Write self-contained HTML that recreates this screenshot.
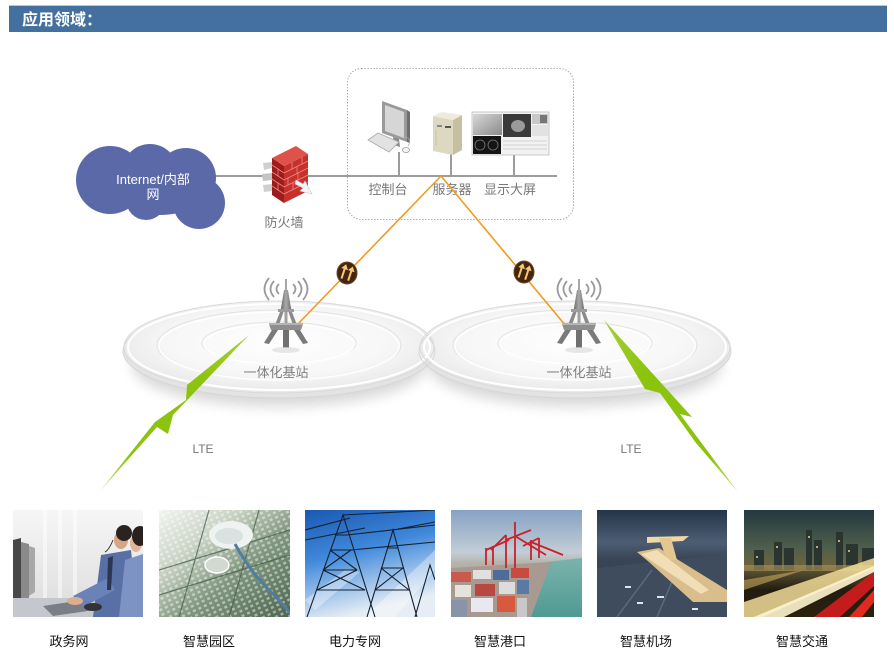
<!DOCTYPE html>
<html><head><meta charset="utf-8">
<style>
html,body{margin:0;padding:0;background:#fff;}
body{width:894px;height:660px;overflow:hidden;position:relative;font-family:"Liberation Sans","Noto Sans CJK SC",sans-serif;}
svg{position:absolute;left:0;top:0;}
</style></head><body>
<svg width="894" height="660" viewBox="0 0 894 660" xmlns="http://www.w3.org/2000/svg" font-family="Liberation Sans, Noto Sans CJK SC, sans-serif">
<defs>
 <radialGradient id="discg" cx="50%" cy="45%" r="55%">
  <stop offset="0" stop-color="#fefefe"/><stop offset="0.65" stop-color="#f7f7f7"/><stop offset="1" stop-color="#e8e8e8"/>
 </radialGradient>
 <filter id="blur8" x="-20%" y="-50%" width="140%" height="200%"><feGaussianBlur stdDeviation="7"/></filter>
 <linearGradient id="towerg" x1="0" x2="1"><stop offset="0" stop-color="#6a6a6a"/><stop offset="0.5" stop-color="#a9a9a9"/><stop offset="1" stop-color="#6e6e6e"/></linearGradient>
 <linearGradient id="boltL" x1="1" y1="0" x2="0" y2="1"><stop offset="0" stop-color="#a6d13a"/><stop offset="0.3" stop-color="#8cc30f"/><stop offset="0.8" stop-color="#8cc30f"/><stop offset="1" stop-color="#c4e07a"/></linearGradient>
 <linearGradient id="boltR" x1="0" y1="0" x2="1" y2="1"><stop offset="0" stop-color="#a6d13a"/><stop offset="0.3" stop-color="#8cc30f"/><stop offset="0.8" stop-color="#8cc30f"/><stop offset="1" stop-color="#c4e07a"/></linearGradient>
 <linearGradient id="p1bg" x1="0" y1="0" x2="0" y2="1"><stop offset="0" stop-color="#f6f6f6"/><stop offset="1" stop-color="#dcdcdc"/></linearGradient>
 <linearGradient id="p2bg" x1="0" y1="0" x2="1" y2="1"><stop offset="0" stop-color="#f2f5f0"/><stop offset="0.3" stop-color="#c9d3c4"/><stop offset="0.6" stop-color="#7f957d"/><stop offset="1" stop-color="#4e6650"/></linearGradient>
 <pattern id="bld" width="6" height="5" patternUnits="userSpaceOnUse" patternTransform="rotate(-25)"><rect width="3" height="2.5" fill="#ffffff" opacity="0.45"/></pattern>
 <linearGradient id="p3bg" x1="0" y1="0" x2="0.3" y2="1"><stop offset="0" stop-color="#1a58b2"/><stop offset="0.45" stop-color="#3f88da"/><stop offset="0.8" stop-color="#a9c9ec"/><stop offset="1" stop-color="#e6edf4"/></linearGradient>
 <linearGradient id="p4bg" x1="0" y1="0" x2="0" y2="1"><stop offset="0" stop-color="#86a2c4"/><stop offset="0.4" stop-color="#c3cdd6"/><stop offset="0.5" stop-color="#b4b2aa"/><stop offset="1" stop-color="#9a8e86"/></linearGradient>
 <linearGradient id="water" x1="0" y1="0" x2="0" y2="1"><stop offset="0" stop-color="#7bb3ac"/><stop offset="1" stop-color="#4f9a92"/></linearGradient>
 <linearGradient id="p5bg" x1="0" y1="0" x2="0" y2="1"><stop offset="0" stop-color="#243449"/><stop offset="0.3" stop-color="#4d5e74"/><stop offset="0.45" stop-color="#3a4658"/><stop offset="1" stop-color="#2c3745"/></linearGradient>
 <linearGradient id="p6bg" x1="0" y1="0" x2="0" y2="1"><stop offset="0" stop-color="#243840"/><stop offset="0.35" stop-color="#4e5e4c"/><stop offset="0.5" stop-color="#6a6440"/><stop offset="0.75" stop-color="#221c10"/><stop offset="1" stop-color="#2a200e"/></linearGradient>
 <linearGradient id="scrn" x1="0" y1="0" x2="1" y2="1"><stop offset="0" stop-color="#d8d8d8"/><stop offset="1" stop-color="#8a8a8a"/></linearGradient>
</defs>

<!-- header -->
<rect x="9" y="5" width="878" height="1" fill="#b8c6d6"/>
<rect x="9" y="6" width="878" height="26" fill="#43709f"/>
<text x="22" y="25" font-size="16" font-weight="bold" fill="#ffffff">应用领域：</text>

<!-- dashed box -->
<rect x="347.5" y="68.5" width="226" height="151" rx="14" ry="14" fill="none" stroke="#9a9a9a" stroke-width="1" stroke-dasharray="1.2,1.8"/>

<!-- main line -->
<line x1="210" y1="176" x2="557" y2="176" stroke="#9c9c9c" stroke-width="2"/>
<line x1="399" y1="152" x2="399" y2="176" stroke="#9c9c9c" stroke-width="2"/>
<line x1="451" y1="153" x2="451" y2="176" stroke="#9c9c9c" stroke-width="2"/>
<line x1="514" y1="155" x2="514" y2="176" stroke="#9c9c9c" stroke-width="2"/>

<!-- cloud -->
<g fill="#5c69a9">
 <circle cx="110" cy="180" r="34"/>
 <circle cx="150" cy="172" r="28"/>
 <circle cx="186" cy="178" r="30"/>
 <circle cx="199" cy="203" r="26"/>
 <circle cx="146" cy="200" r="20"/>
 <ellipse cx="160" cy="190" rx="45" ry="25"/>
</g>
<text x="153" y="184" font-size="13" fill="#ffffff" text-anchor="middle">Internet/内部</text>
<text x="153" y="199" font-size="13" fill="#ffffff" text-anchor="middle">网</text>

<!-- firewall -->
<g>
 <polygon points="263,163 272,162 272,168 264,170" fill="#cfcfcf"/>
 <polygon points="262,174 272,173 272,180 263,181" fill="#c4c4c4"/>
 <polygon points="263,185 272,184 272,191 264,192" fill="#cfcfcf"/>
 <polygon points="272,158 284,166 284,203 272,195" fill="#9c1b1b"/>
 <polygon points="284,166 308,154 308,191 284,203" fill="#c8302b"/>
 <polygon points="272,158 296,146 308,154 284,166" fill="#df5249"/>
 <g stroke="#e98a84" stroke-width="0.8">
  <line x1="284" y1="173" x2="308" y2="161"/>
  <line x1="284" y1="180" x2="308" y2="168"/>
  <line x1="284" y1="187" x2="308" y2="175"/>
  <line x1="284" y1="194" x2="308" y2="182"/>
  <line x1="272" y1="165" x2="284" y2="173"/>
  <line x1="272" y1="172" x2="284" y2="180"/>
  <line x1="272" y1="179" x2="284" y2="187"/>
  <line x1="272" y1="186" x2="284" y2="194"/>
  <line x1="292" y1="162" x2="292" y2="169"/><line x1="302" y1="157" x2="302" y2="164"/>
  <line x1="297" y1="167" x2="297" y2="174"/><line x1="288" y1="178" x2="288" y2="185"/>
  <line x1="298" y1="173" x2="298" y2="180"/><line x1="293" y1="183" x2="293" y2="190"/>
  <line x1="278" y1="169" x2="278" y2="176"/><line x1="278" y1="183" x2="278" y2="190"/>
 </g>
 <polygon points="296,180 303,184 305,181 312,194 300,191 303,188 295,184" fill="#f4f4f4" stroke="#c8c8c8" stroke-width="0.6"/>
</g>
<text x="284" y="227" font-size="13" fill="#777" text-anchor="middle">防火墙</text>

<!-- computer -->
<g>
 <polygon points="382,101 407,110 407,142 382,133" fill="#9a9a9a"/>
 <polygon points="407,110 410,112 410,143 407,142" fill="#6e6e6e"/>
 <polygon points="385,105 404,112 404,138 385,131" fill="#d6d6d6"/>
 <polygon points="393,137 399,139 400,147 394,145" fill="#8a8a8a"/>
 <polygon points="368,140 378,133 399,142 389,152" fill="#e2e2e2" stroke="#a8a8a8" stroke-width="0.8"/>
 <path d="M408,146 C412,140 408,136 404,138" fill="none" stroke="#aaa" stroke-width="0.8"/>
 <ellipse cx="406" cy="150" rx="3.5" ry="2.5" fill="#f4f4f4" stroke="#999" stroke-width="0.8"/>
</g>
<!-- server -->
<g>
 <polygon points="433,116 453,120 453,155 433,151" fill="#ddd8c0"/>
 <polygon points="453,120 462,115 462,150 453,155" fill="#c6bfa2"/>
 <polygon points="433,116 442,112 462,115 453,120" fill="#efebdc"/>
 <rect x="437" y="125" width="5" height="2" fill="#888"/>
 <rect x="445" y="126" width="6" height="2" fill="#555"/>
 <line x1="436" y1="130" x2="436" y2="146" stroke="#c4bea4" stroke-width="0.8"/>
</g>
<!-- video wall -->
<g>
 <rect x="472" y="112" width="77" height="43" fill="#f2f2f2" stroke="#bbb" stroke-width="0.8"/>
 <rect x="473" y="114" width="29" height="21" fill="url(#scrn)"/>
 <rect x="503" y="114" width="28" height="23" fill="#3a3a3a"/>
 <ellipse cx="518" cy="126" rx="7" ry="6" fill="#9a9a9a"/>
 <rect x="532" y="114" width="16" height="10" fill="#c8c8c8"/>
 <rect x="540" y="115" width="7" height="8" fill="#777"/>
 <rect x="532" y="125" width="16" height="11" fill="#e2e2e2"/>
 <rect x="473" y="136" width="28" height="18" fill="#141414"/>
 <circle cx="480" cy="145" r="5" fill="none" stroke="#777" stroke-width="0.8"/>
 <circle cx="493" cy="145" r="5" fill="none" stroke="#777" stroke-width="0.8"/>
 <g stroke="#c8c8c8" stroke-width="0.7">
  <line x1="503" y1="141" x2="547" y2="141"/><line x1="503" y1="145" x2="547" y2="145"/>
  <line x1="503" y1="149" x2="547" y2="149"/>
 </g>
</g>
<text x="388" y="194" font-size="13" fill="#777" text-anchor="middle">控制台</text>
<text x="452" y="194" font-size="13" fill="#777" text-anchor="middle">服务器</text>
<text x="510" y="194" font-size="13" fill="#777" text-anchor="middle">显示大屏</text>

<!-- discs: shadows -->
<ellipse cx="279" cy="366" rx="146" ry="40" fill="#000" opacity="0.16" filter="url(#blur8)"/>
<ellipse cx="575" cy="366" rx="146" ry="40" fill="#000" opacity="0.16" filter="url(#blur8)"/>
<!-- disc bodies -->
<ellipse cx="279" cy="351" rx="156" ry="47" fill="#e3e3e3"/>
<ellipse cx="575" cy="351" rx="156" ry="47" fill="#e3e3e3"/>
<ellipse cx="279" cy="347" rx="155" ry="46" fill="url(#discg)"/>
<ellipse cx="575" cy="347" rx="155" ry="46" fill="url(#discg)"/>
<g fill="none">
 <ellipse cx="279" cy="351" rx="156" ry="47" stroke="#d6d6d6" stroke-width="1"/>
 <ellipse cx="279" cy="347" rx="155" ry="46" stroke="#dadada" stroke-width="1"/>
 <ellipse cx="279" cy="347" rx="151" ry="43" stroke="#ffffff" stroke-width="2"/>
 <ellipse cx="279" cy="345" rx="122" ry="35" stroke="#e2e2e2" stroke-width="1"/>
 <ellipse cx="279" cy="346" rx="120" ry="34" stroke="#ffffff" stroke-width="1.5"/>
 <ellipse cx="279" cy="343" rx="77" ry="21" stroke="#e4e4e4" stroke-width="1"/>
 <ellipse cx="279" cy="344" rx="75" ry="20" stroke="#ffffff" stroke-width="1.5"/>
 <ellipse cx="575" cy="351" rx="156" ry="47" stroke="#d6d6d6" stroke-width="1"/>
 <ellipse cx="575" cy="347" rx="155" ry="46" stroke="#dadada" stroke-width="1"/>
 <ellipse cx="575" cy="347" rx="151" ry="43" stroke="#ffffff" stroke-width="2"/>
 <ellipse cx="575" cy="345" rx="122" ry="35" stroke="#e2e2e2" stroke-width="1"/>
 <ellipse cx="575" cy="346" rx="120" ry="34" stroke="#ffffff" stroke-width="1.5"/>
 <ellipse cx="575" cy="343" rx="77" ry="21" stroke="#e4e4e4" stroke-width="1"/>
 <ellipse cx="575" cy="344" rx="75" ry="20" stroke="#ffffff" stroke-width="1.5"/>
</g>
<text x="276" y="377" font-size="13" fill="#808080" text-anchor="middle">一体化基站</text>
<text x="579" y="377" font-size="13" fill="#808080" text-anchor="middle">一体化基站</text>

<!-- orange links -->
<line x1="441" y1="176" x2="295" y2="327" stroke="#f39a1e" stroke-width="1.6"/>
<line x1="441" y1="176" x2="566" y2="326" stroke="#f39a1e" stroke-width="1.6"/>

<!-- towers -->
<g id="towerL" transform="translate(286,0)">
 <g fill="none" stroke="#9a9a9a" stroke-width="1.8">
  <path d="M-17,278 Q-26,289 -17,300"/><path d="M-12,281 Q-19,289 -12,297"/><path d="M-7,284 Q-12,289 -7,294"/>
  <path d="M17,278 Q26,289 17,300"/><path d="M12,281 Q19,289 12,297"/><path d="M7,284 Q12,289 7,294"/>
 </g>
 <line x1="0" y1="279" x2="0" y2="292" stroke="#888" stroke-width="1.5"/>
 <polygon points="-2,290 2,290 5.5,311 -5.5,311" fill="url(#towerg)"/>
 <rect x="-8" y="309" width="16" height="3" fill="#9c9c9c"/>
 <polygon points="-6,312 -2.5,312 -7,325 -11,325" fill="#8a8a8a"/>
 <polygon points="6,312 2.5,312 7,325 11,325" fill="#8a8a8a"/>
 <rect x="-1.5" y="312" width="3" height="13" fill="#a0a0a0"/>
 <polygon points="-17,324 17,324 15,330 -15,330" fill="#8e8e8e"/>
 <rect x="-17" y="323" width="34" height="2" fill="#b4b4b4"/>
 <polygon points="-14,330 -8,330 -17,344 -22,343" fill="#7a7a7a"/>
 <polygon points="14,330 8,330 17,344 22,343" fill="#7a7a7a"/>
 <polygon points="-3,330 3,330 3,348 -3,348" fill="#707070"/>
 <ellipse cx="0" cy="350" rx="14" ry="3" fill="#ddd" opacity="0.7"/>
</g>
<g transform="translate(579,0)">
 <g fill="none" stroke="#9a9a9a" stroke-width="1.8">
  <path d="M-17,278 Q-26,289 -17,300"/><path d="M-12,281 Q-19,289 -12,297"/><path d="M-7,284 Q-12,289 -7,294"/>
  <path d="M17,278 Q26,289 17,300"/><path d="M12,281 Q19,289 12,297"/><path d="M7,284 Q12,289 7,294"/>
 </g>
 <line x1="0" y1="279" x2="0" y2="292" stroke="#888" stroke-width="1.5"/>
 <polygon points="-2,290 2,290 5.5,311 -5.5,311" fill="url(#towerg)"/>
 <rect x="-8" y="309" width="16" height="3" fill="#9c9c9c"/>
 <polygon points="-6,312 -2.5,312 -7,325 -11,325" fill="#8a8a8a"/>
 <polygon points="6,312 2.5,312 7,325 11,325" fill="#8a8a8a"/>
 <rect x="-1.5" y="312" width="3" height="13" fill="#a0a0a0"/>
 <polygon points="-17,324 17,324 15,330 -15,330" fill="#8e8e8e"/>
 <rect x="-17" y="323" width="34" height="2" fill="#b4b4b4"/>
 <polygon points="-14,330 -8,330 -17,344 -22,343" fill="#7a7a7a"/>
 <polygon points="14,330 8,330 17,344 22,343" fill="#7a7a7a"/>
 <polygon points="-3,330 3,330 3,348 -3,348" fill="#707070"/>
 <ellipse cx="0" cy="350" rx="14" ry="3" fill="#ddd" opacity="0.7"/>
</g>

<!-- badges -->
<g transform="translate(347,273)">
 <ellipse cx="0" cy="0" rx="10" ry="11" fill="#43250f" stroke="#6e4626" stroke-width="1"/>
 <g transform="rotate(18)" fill="#f4c874">
  <polygon points="-3.5,-8 0,-3 -2.5,-3 -2.5,7 -4.5,7 -4.5,-3 -7,-3"/>
  <polygon points="3.5,-8 7,-3 4.5,-3 4.5,7 2.5,7 2.5,-3 0,-3"/>
 </g>
</g>
<g transform="translate(524,272)">
 <ellipse cx="0" cy="0" rx="10" ry="11" fill="#43250f" stroke="#6e4626" stroke-width="1"/>
 <g transform="rotate(18)" fill="#f4c874">
  <polygon points="-3.5,-8 0,-3 -2.5,-3 -2.5,7 -4.5,7 -4.5,-3 -7,-3"/>
  <polygon points="3.5,-8 7,-3 4.5,-3 4.5,7 2.5,7 2.5,-3 0,-3"/>
 </g>
</g>

<!-- lightning -->
<polygon points="249,335 187,385 186,400 155,422 100,491 157,427 168,434 173,415" fill="url(#boltL)"/>
<polygon points="604,320 692,417 680,414 738,492 696,443 660,393 645,389" fill="url(#boltR)"/>
<text x="203" y="453" font-size="12" fill="#777" text-anchor="middle">LTE</text>
<text x="631" y="453" font-size="12" fill="#777" text-anchor="middle">LTE</text>

<!-- photo 1 -->
<svg x="13" y="510" width="130" height="107" viewBox="0 0 130 107">
 <rect width="130" height="107" fill="url(#p1bg)"/>
 <g fill="#ffffff" opacity="0.5"><rect x="30" y="0" width="4" height="90"/><rect x="45" y="0" width="4" height="90"/><rect x="60" y="0" width="4" height="90"/></g>
 <polygon points="0,30 8,28 8,95 0,100" fill="#484848"/>
 <polygon points="8,32 16,34 16,88 8,92" fill="#8a8a8a"/>
 <polygon points="16,36 22,38 22,82 16,86" fill="#a8a8a8"/>
 <rect y="88" width="130" height="19" fill="#c4c8ce"/>
 <polygon points="30,96 70,90 82,100 40,106" fill="#7a7e86"/>
 <polygon points="88,45 118,40 125,107 80,107" fill="#5870a6"/>
 <polygon points="60,86 95,68 102,80 70,97" fill="#6a82b8"/>
 <ellipse cx="62" cy="91" rx="8" ry="4" fill="#dcae8e"/>
 <ellipse cx="108" cy="30" rx="7" ry="9" fill="#d6a586"/>
 <ellipse cx="111" cy="23" rx="8" ry="8" fill="#2b2320"/>
 <polygon points="112,50 130,44 130,107 106,107" fill="#7d93c4"/>
 <ellipse cx="123" cy="33" rx="6" ry="9" fill="#e1b696"/>
 <ellipse cx="127" cy="26" rx="8" ry="10" fill="#2a201c"/>
 <polygon points="95,48 100,46 98,80 94,80" fill="#2d3550"/>
 <path d="M100,30 Q96,40 92,42" stroke="#333" stroke-width="1" fill="none"/>
 <ellipse cx="80" cy="97" rx="9" ry="4" fill="#333"/>
</svg>

<!-- photo 2 -->
<svg x="159" y="510" width="131" height="107" viewBox="0 0 131 107">
 <rect width="131" height="107" fill="url(#p2bg)"/>
 <rect width="131" height="107" fill="url(#bld)"/>
 <g stroke="#3e5a46" stroke-width="1.2" opacity="0.7">
  <line x1="0" y1="60" x2="131" y2="20"/><line x1="0" y1="85" x2="131" y2="45"/>
  <line x1="20" y1="107" x2="50" y2="0"/><line x1="70" y1="107" x2="100" y2="0"/>
 </g>
 <ellipse cx="72" cy="25" rx="22" ry="14" fill="#eef2f1"/>
 <ellipse cx="70" cy="26" rx="14" ry="8" fill="#d8e2e0"/>
 <ellipse cx="58" cy="55" rx="12" ry="8" fill="#d2dad0" stroke="#ffffff" stroke-width="1.5"/>
 <path d="M76,34 Q90,60 110,80 T131,104" stroke="#4f7ea0" stroke-width="3" fill="none"/>
</svg>

<!-- photo 3 -->
<svg x="305" y="510" width="130" height="107" viewBox="0 0 130 107">
 <rect width="130" height="107" fill="url(#p3bg)"/>
 <g fill="#ffffff" opacity="0.35">
  <polygon points="60,107 130,40 130,60 90,107"/>
  <polygon points="0,90 40,60 55,62 10,100"/>
 </g>
 <g stroke="#13202f" stroke-width="1.1" fill="none">
  <path d="M2,107 L38,5 L70,107"/>
  <path d="M12,80 L60,80 M18,60 L52,60 M25,40 L46,40 M30,25 L42,25"/>
  <path d="M12,80 L52,60 M60,80 L18,60 M18,60 L46,40 M52,60 L25,40"/>
  <path d="M0,30 L60,18 M0,20 L45,8"/>
  <path d="M62,107 L88,20 L112,107"/>
  <path d="M70,80 L104,80 M76,58 L98,58 M82,38 L93,38"/>
  <path d="M70,80 L98,58 M104,80 L76,58"/>
  <path d="M38,5 L130,0 M42,25 L130,15 M46,40 L130,32 M88,20 L130,12"/>
  <path d="M110,107 L125,55 L130,70"/>
 </g>
</svg>

<!-- photo 4 -->
<svg x="451" y="510" width="131" height="107" viewBox="0 0 131 107">
 <rect width="131" height="107" fill="url(#p4bg)"/>
 <polygon points="95,52 131,48 131,107 78,107" fill="url(#water)"/>
 <polygon points="0,58 100,52 80,107 0,107" fill="#a89a90"/>
 <g>
  <rect x="0" y="62" width="20" height="10" fill="#c85a4e"/><rect x="22" y="60" width="18" height="9" fill="#e0e0e0"/>
  <rect x="42" y="60" width="16" height="10" fill="#4c6c9a"/><rect x="60" y="58" width="18" height="10" fill="#c84a40"/>
  <rect x="4" y="75" width="16" height="12" fill="#e6e2dc"/><rect x="24" y="74" width="20" height="12" fill="#b84840"/>
  <rect x="48" y="72" width="16" height="12" fill="#dcdcdc"/><rect x="66" y="70" width="12" height="14" fill="#5a7aa6"/>
  <rect x="20" y="88" width="22" height="14" fill="#e8e8ee"/><rect x="46" y="86" width="18" height="16" fill="#d85a3e"/>
  <rect x="0" y="90" width="16" height="17" fill="#8a94a8"/><rect x="66" y="88" width="10" height="19" fill="#c8c8c8"/>
 </g>
 <g stroke="#c8222a" stroke-width="1.8" fill="none">
  <path d="M55,58 L55,25 M64,58 L64,22 M55,30 L80,20 M64,26 L95,45 M55,25 L40,40 M64,12 L64,30"/>
  <path d="M80,50 L80,30 M88,48 L88,28 M80,32 L112,45 M88,28 L72,36"/>
  <path d="M35,55 L35,38 M42,55 L42,36 M35,40 L58,30"/>
 </g>
</svg>

<!-- photo 5 -->
<svg x="597" y="510" width="130" height="107" viewBox="0 0 130 107">
 <rect width="130" height="107" fill="url(#p5bg)"/>
 <polygon points="0,58 130,44 130,107 0,107" fill="#3e4c5e"/>
 <g stroke="#5a6a7e" stroke-width="1.5"><line x1="20" y1="107" x2="55" y2="60"/><line x1="60" y1="107" x2="80" y2="60"/></g>
 <polygon points="40,42 62,38 130,80 130,92 96,92 52,52" fill="#d9bd8a"/>
 <polygon points="50,27 92,26 86,31 50,33" fill="#f0d8a4"/>
 <polygon points="62,28 74,28 80,50 70,50" fill="#e4c690"/>
 <polygon points="44,44 60,40 112,80 104,84" fill="#f6e6c0" opacity="0.8"/>
 <g fill="#e0e4ea"><rect x="28" y="76" width="6" height="2"/><rect x="60" y="86" width="7" height="2"/><rect x="95" y="98" width="6" height="2"/><rect x="40" y="92" width="6" height="2"/></g>
</svg>

<!-- photo 6 -->
<svg x="744" y="510" width="130" height="107" viewBox="0 0 130 107">
 <rect width="130" height="107" fill="url(#p6bg)"/>
 <g fill="#2a3430">
  <rect x="10" y="40" width="10" height="20"/><rect x="30" y="32" width="8" height="28"/><rect x="40" y="38" width="10" height="22"/>
  <rect x="62" y="20" width="6" height="40"/><rect x="70" y="30" width="8" height="30"/><rect x="92" y="22" width="7" height="38"/>
  <rect x="102" y="34" width="12" height="26"/><rect x="118" y="38" width="12" height="22"/>
 </g>
 <g fill="#e8c870" opacity="0.8">
  <rect x="32" y="36" width="2" height="2"/><rect x="64" y="26" width="2" height="2"/><rect x="94" y="30" width="2" height="2"/>
  <rect x="72" y="36" width="2" height="2"/><rect x="104" y="40" width="2" height="2"/><rect x="12" y="46" width="2" height="2"/>
 </g>
 <rect x="0" y="55" width="130" height="6" fill="#b09a58" opacity="0.6"/>
 <polygon points="0,92 130,48 130,58 18,107 0,107" fill="#f2dc98" opacity="0.85"/>
 <polygon points="10,107 130,56 130,62 40,107" fill="#fff4d0" opacity="0.9"/>
 <polygon points="70,107 130,62 130,76 96,107" fill="#c41c1c"/>
 <polygon points="105,107 130,80 130,92 118,107" fill="#e02a20"/>
 <polygon points="0,70 60,60 0,80" fill="#c8a85a" opacity="0.6"/>
</svg>

<!-- photo labels -->
<g font-size="13" fill="#111" text-anchor="middle">
 <text x="69" y="646">政务网</text>
 <text x="209" y="646">智慧园区</text>
 <text x="355" y="646">电力专网</text>
 <text x="500" y="646">智慧港口</text>
 <text x="646" y="646">智慧机场</text>
 <text x="802" y="646">智慧交通</text>
</g>
</svg>
</body></html>
